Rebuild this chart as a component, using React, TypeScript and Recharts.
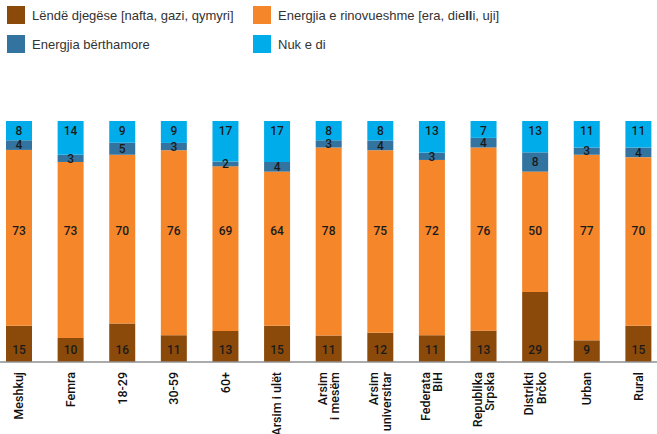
import React from "react";
import { BarChart, Bar, XAxis, YAxis, LabelList } from "recharts";

const categories = [
  "Meshkuj",
  "Femra",
  "18-29",
  "30-59",
  "60+",
  "Arsim i ulët",
  "Arsim\ni mesëm",
  "Arsim\nuniversitar",
  "Federata\nBiH",
  "Republika\nSrpska",
  "Distrikti\nBrčko",
  "Urban",
  "Rural",
];
const fossil = [15, 10, 16, 11, 13, 15, 11, 12, 11, 13, 29, 9, 15];
const renewable = [73, 73, 70, 76, 69, 64, 78, 75, 72, 76, 50, 77, 70];
const nuclear = [4, 3, 5, 3, 2, 4, 3, 4, 3, 4, 8, 3, 4];
const dontKnow = [8, 14, 9, 9, 17, 17, 8, 8, 13, 7, 13, 11, 11];

const seriesNames = [
  "Lëndë djegëse [nafta, gazi, qymyri]",
  "Energjia e rinovueshme [era, dielli, uji]",
  "Energjia bërthamore",
  "Nuk e di",
];
const COLORS = ["#8c4a0a", "#f5862a", "#33739f", "#00adea"];

const data = categories.map((c, i) => ({
  name: c,
  fossil: fossil[i],
  renewable: renewable[i],
  nuclear: nuclear[i],
  dontKnow: dontKnow[i],
}));

const CHART_W = 671;
const CHART_H = 434;
const M_TOP = 121;
const AXIS_H = 73;
const PLOT_H = CHART_H - M_TOP - AXIS_H;

const labelFont = {
  fontFamily: "Roboto, 'Noto Sans', sans-serif",
  fontSize: 12,
  fontWeight: 500,
  fill: "#1a1a1a",
};

const makeLabel = (mode: string) => (props: any) => {
  const vb = props.viewBox || {};
  const x = props.x ?? vb.x;
  const y = props.y ?? vb.y;
  const w = props.width ?? vb.width;
  const h = props.height ?? vb.height;
  let cy = y + h / 2;
  if (mode === "bottom") cy = y + h - 12;
  if (mode === "top") cy = y + 10;
  if (mode === "fixed") cy = M_TOP + PLOT_H * 0.455;
  return (
    <text x={x + w / 2} y={cy} dy="0.36em" textAnchor="middle" {...labelFont}>
      {props.value}
    </text>
  );
};

const Tick = (props: any) => {
  const { x, y, payload } = props;
  const lines = String(payload.value).split("\n");
  const n = lines.length;
  return (
    <g transform={`translate(${x},${y})`}>
      <text
        transform="rotate(-90)"
        textAnchor="end"
        fontFamily="Roboto, 'Noto Sans', sans-serif"
        fontSize={12.5}
        fontWeight={500}
        fill="#111"
      >
        {lines.map((l, i) => (
          <tspan key={i} x={0} y={(i - (n - 1) / 2) * 12.5} dy="0.36em">
            {l}
          </tspan>
        ))}
      </text>
    </g>
  );
};

const legendItem = (i: number, left: number, top: number) => (
  <div
    key={i}
    style={{
      position: "absolute",
      left,
      top,
      display: "flex",
      alignItems: "center",
      fontFamily: "'Liberation Sans', Arial, sans-serif",
      fontSize: 13,
      color: "#333",
      whiteSpace: "nowrap",
    }}
  >
    <div style={{ width: 18, height: 18, background: COLORS[i], marginRight: 7 }} />
    <span>
      {i === 1 ? (
        <>
          Energjia e rinovueshme [era, die<b>ll</b>i, uji]
        </>
      ) : (
        seriesNames[i]
      )}
    </span>
  </div>
);

export default function App() {
  return (
    <div
      style={{
        position: "absolute",
        left: 0,
        top: 0,
        width: 657,
        height: 434,
        overflow: "hidden",
        background: "#fff",
      }}
    >
      {legendItem(0, 7, 6)}
      {legendItem(1, 253, 6)}
      {legendItem(2, 7, 35)}
      {legendItem(3, 253, 35)}
      <div style={{ position: "absolute", left: -7, top: 0 }}>
        <BarChart
          width={CHART_W}
          height={CHART_H}
          data={data}
          stackOffset="expand"
          barSize={26}
          margin={{ top: M_TOP, bottom: 0, left: 0, right: 0 }}
        >
          <XAxis
            dataKey="name"
            interval={0}
            tickLine={false}
            axisLine={{ stroke: "#8f8f8f", strokeWidth: 1.5 }}
            tick={<Tick />}
            tickMargin={4}
            height={AXIS_H - 1}
          />
          <YAxis hide domain={[0, 1]} />
          <Bar dataKey="fossil" stackId="a" fill={COLORS[0]} isAnimationActive={false}>
            <LabelList dataKey="fossil" content={makeLabel("bottom")} />
          </Bar>
          <Bar dataKey="renewable" stackId="a" fill={COLORS[1]} isAnimationActive={false}>
            <LabelList dataKey="renewable" content={makeLabel("fixed")} />
          </Bar>
          <Bar dataKey="nuclear" stackId="a" fill={COLORS[2]} isAnimationActive={false}>
            <LabelList dataKey="nuclear" content={makeLabel("center")} />
          </Bar>
          <Bar dataKey="dontKnow" stackId="a" fill={COLORS[3]} isAnimationActive={false}>
            <LabelList dataKey="dontKnow" content={makeLabel("top")} />
          </Bar>
        </BarChart>
      </div>
    </div>
  );
}
